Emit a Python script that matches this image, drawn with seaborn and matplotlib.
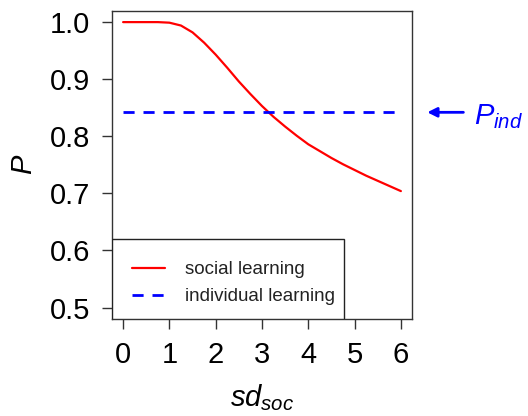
import numpy as np
import pandas as pd
import matplotlib
matplotlib.use("Agg")
import matplotlib.pyplot as plt
from matplotlib.patches import Rectangle
import seaborn as sns

# Probability of the correct choice as the social-information noise grows
sd_soc = [0.0, 0.25, 0.5, 0.75, 1.0, 1.25, 1.5, 1.75, 2.0, 2.25, 2.5, 2.75, 3.0,
          3.25, 3.5, 3.75, 4.0, 4.25, 4.5, 4.75, 5.0, 5.25, 5.5, 5.75, 6.0]
p_social = [1.000, 1.000, 1.000, 1.000, 0.999, 0.994, 0.982, 0.964, 0.943,
            0.920, 0.896, 0.874, 0.853, 0.834, 0.817, 0.801, 0.786, 0.774,
            0.762, 0.751, 0.741, 0.731, 0.722, 0.713, 0.704]

# Individual learning does not depend on sd_soc
p_ind = 0.842
ind_x = [0.0, 6.0]

x_ticks = [0, 1, 2, 3, 4, 5, 6]
y_ticks = [0.5, 0.6, 0.7, 0.8, 0.9, 1.0]
y_tick_labels = ["0.5", "0.6", "0.7", "0.8", "0.9", "1.0"]

sns.set_theme(style="ticks")
plt.rcParams["font.family"] = ["Liberation Sans", "DejaVu Sans"]
plt.rcParams["mathtext.fontset"] = "custom"
plt.rcParams["mathtext.rm"] = "Liberation Sans"
plt.rcParams["mathtext.it"] = "Liberation Sans:italic"

social = pd.DataFrame({"sd": sd_soc, "P": p_social})
individual = pd.DataFrame({"sd": ind_x, "P": [p_ind] * len(ind_x)})

fig = plt.figure(figsize=(5.28, 4.16), dpi=100)
ax = fig.add_axes([0.2121, 0.2332, 0.5682, 0.7411])

sns.lineplot(data=social, x="sd", y="P", ax=ax, color="#ff0000", lw=1.6,
             label="social learning")
sns.lineplot(data=individual, x="sd", y="P", ax=ax, color="#0000ff", lw=2.0,
             label="individual learning")
ax.lines[1].set_linestyle((0, (4, 3.2)))

ax.set_xlim(-0.24, 6.24)
ax.set_ylim(0.48, 1.02)
ax.set_xticks(x_ticks)
ax.set_xticklabels([str(t) for t in x_ticks])
ax.set_yticks(y_ticks)
ax.set_yticklabels(y_tick_labels)
ax.tick_params(axis="both", labelsize=21, length=7, width=1.0,
               color="#333333", pad=9, labelcolor="black")

for s in ax.spines.values():
    s.set_visible(True)
    s.set_color("#333333")
    s.set_linewidth(1.0)

ax.set_xlabel(r"$sd_{soc}$", fontsize=21, labelpad=9, color="black")
ax.set_ylabel(r"$P$", fontsize=21, labelpad=8, color="black")

# Legend box in the lower-left corner, drawn as a plain rectangle
ax.add_patch(Rectangle((0, 0), 0.773, 0.2595, transform=ax.transAxes,
                       facecolor="white", edgecolor="#222222", lw=1.0,
                       zorder=4))
leg = ax.legend(loc="lower left", bbox_to_anchor=(0.0, -0.02), borderaxespad=0,
                fontsize=13.5, frameon=False, borderpad=1.05,
                labelspacing=0.53, handlelength=1.8, handletextpad=1.05)
leg.set_zorder(5)
for t in leg.get_texts():
    t.set_color("#222222")

# Marker for the individual-learning level outside the plot area
ax.annotate("", xy=(6.57, p_ind), xytext=(7.35, p_ind),
            arrowprops=dict(arrowstyle="-|>", color="#0000ff", lw=2.0,
                            mutation_scale=14, shrinkA=0, shrinkB=0),
            annotation_clip=False)
ax.text(7.58, 0.822, r"$P_{ind}$", color="#0000ff", fontsize=21,
        ha="left", va="baseline", clip_on=False)

fig.savefig("out.png", dpi=100)
